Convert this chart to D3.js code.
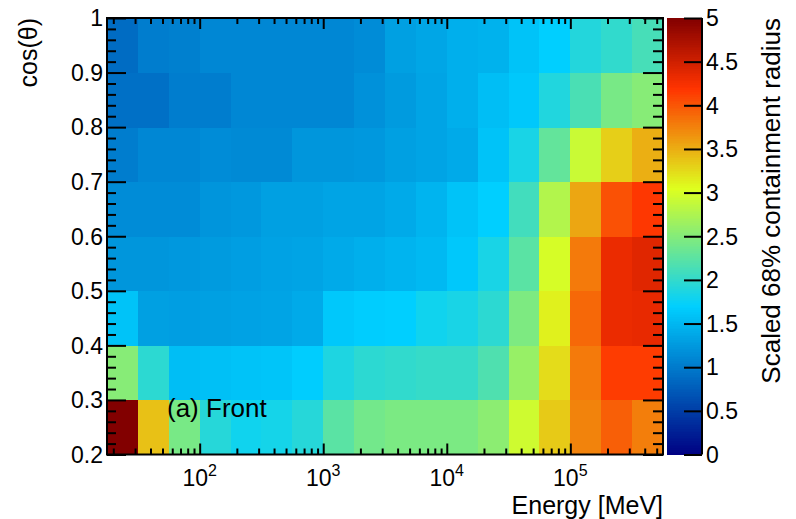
<!DOCTYPE html>
<html><head><meta charset="utf-8">
<script src="https://cdn.jsdelivr.net/npm/d3@7"></script>
<style>
body{margin:0;background:#fff}
svg{display:block}
text{font-family:"Liberation Sans",Arial,Helvetica,sans-serif;fill:#000}
</style>
</head><body>
<svg id="chart" width="796" height="519"></svg>
<script>
// ---- data ----
// energy bin edges, in log10(E / MeV)
const energyEdgesLog = [1.25,1.5,1.75,2,2.25,2.5,2.75,3,3.25,3.5,3.75,4,4.25,4.5,4.75,5,5.25,5.5,5.75];
// cos(theta) bin edges
const cosEdges = [0.2,0.3,0.4,0.5,0.6,0.7,0.8,0.9,1.0];
// scaled 68% containment radius, one array per cos(theta) row (low -> high energy)
const radiusCos020 = [5.0,3.4,2.43,1.93,1.8,1.83,1.93,2.25,2.4,2.45,2.45,2.45,2.55,2.95,3.35,3.75,3.95,3.78];
const radiusCos030 = [2.52,1.97,1.56,1.58,1.6,1.62,1.68,1.88,1.97,2.0,2.03,2.03,2.18,2.62,3.25,3.8,4.15,4.15];
const radiusCos040 = [1.6,1.31,1.3,1.31,1.33,1.35,1.4,1.64,1.68,1.7,1.8,1.85,1.97,2.46,3.13,3.9,4.33,4.35];
const radiusCos050 = [1.23,1.23,1.25,1.27,1.3,1.33,1.35,1.4,1.44,1.48,1.52,1.64,1.85,2.25,3.0,3.8,4.33,4.4];
const radiusCos060 = [1.15,1.15,1.15,1.22,1.25,1.31,1.31,1.35,1.35,1.4,1.48,1.6,1.7,2.1,2.78,3.55,4.03,4.18];
const radiusCos070 = [1.03,1.11,1.11,1.15,1.13,1.13,1.23,1.23,1.25,1.31,1.35,1.4,1.6,1.85,2.3,2.92,3.32,3.5];
const radiusCos080 = [0.92,0.92,1.03,1.03,1.11,1.11,1.11,1.11,1.19,1.27,1.35,1.44,1.56,1.64,1.9,2.15,2.43,2.52];
const radiusCos090 = [0.89,1.03,1.05,1.11,1.11,1.11,1.11,1.11,1.15,1.31,1.36,1.44,1.46,1.6,1.7,1.91,2.0,2.13];
const radiusRows = [radiusCos020,radiusCos030,radiusCos040,radiusCos050,radiusCos060,radiusCos070,radiusCos080,radiusCos090];
// ticks
const cosTicks = [0.2,0.3,0.4,0.5,0.6,0.7,0.8,0.9,1];
const cosTickLabels = ["0.2","0.3","0.4","0.5","0.6","0.7","0.8","0.9","1"];
const energyTickExps = [2,3,4,5];
const zTicks = [0,0.5,1,1.5,2,2.5,3,3.5,4,4.5,5];
const zTickLabels = ["0","0.5","1","1.5","2","2.5","3","3.5","4","4.5","5"];
// palette stops (fraction of z range) and colours
const paletteStops = [0.00,0.34,0.61,0.84,1.00];
const paletteColors = ["rgb(0,0,130)","rgb(0,207,255)","rgb(222,255,31)","rgb(255,51,0)","rgb(130,0,0)"];
const zRange = [0,5];

// ---- layout ----
const svg = d3.select("#chart");
const L = 107, R = 663, T = 18, B = 454.5;
const x = d3.scaleLog().domain([Math.pow(10,1.25), Math.pow(10,5.75)]).range([L,R]);
const y = d3.scaleLinear().domain([0.2,1]).range([B,T]);
const z = d3.scaleLinear()
  .domain(paletteStops.map(s => zRange[0] + s*(zRange[1]-zRange[0])))
  .range(paletteColors).interpolate(d3.interpolateRgb).clamp(true);

// ---- cells ----
const cells = [];
radiusRows.forEach((row,j) => row.forEach((v,i) => cells.push({
  e0: Math.pow(10,energyEdgesLog[i]), e1: Math.pow(10,energyEdgesLog[i+1]),
  c0: cosEdges[j], c1: cosEdges[j+1], v})));
svg.append("g").selectAll("rect").data(cells).join("rect")
  .attr("x", d => x(d.e0)).attr("width", d => x(d.e1)-x(d.e0)+0.5)
  .attr("y", d => y(d.c1)).attr("height", d => y(d.c0)-y(d.c1)+0.5)
  .attr("fill", d => z(d.v)).attr("shape-rendering","crispEdges");

// ---- axes ----
const minorE = [];
for (let p=1; p<=5; p++) for (let m=2; m<=9; m++) { const v = m*Math.pow(10,p); if (v>=x.domain()[0] && v<=x.domain()[1]) minorE.push(v); }
const majorE = energyTickExps.map(p => Math.pow(10,p));
const minorCos = d3.range(0.2,1.0001,0.02).map(v => +v.toFixed(2)).filter(v => !cosTicks.some(t => Math.abs(t-v)<1e-6));

function styleAxis(g){ g.select(".domain").remove(); g.selectAll("line").attr("stroke","#000").attr("stroke-width",2); g.selectAll("text").remove(); }
svg.append("g").attr("transform",`translate(0,${B})`).call(d3.axisBottom(x).tickValues(majorE).tickSize(-11).tickFormat("")).call(styleAxis);
svg.append("g").attr("transform",`translate(0,${B})`).call(d3.axisBottom(x).tickValues(minorE).tickSize(-6).tickFormat("")).call(styleAxis);
svg.append("g").attr("transform",`translate(0,${T})`).call(d3.axisTop(x).tickValues(majorE).tickSize(-11).tickFormat("")).call(styleAxis);
svg.append("g").attr("transform",`translate(0,${T})`).call(d3.axisTop(x).tickValues(minorE).tickSize(-6).tickFormat("")).call(styleAxis);
svg.append("g").attr("transform",`translate(${L},0)`).call(d3.axisLeft(y).tickValues(cosTicks).tickSize(-19).tickFormat("")).call(styleAxis);
svg.append("g").attr("transform",`translate(${L},0)`).call(d3.axisLeft(y).tickValues(minorCos).tickSize(-9).tickFormat("")).call(styleAxis);
svg.append("g").attr("transform",`translate(${R},0)`).call(d3.axisRight(y).tickValues(cosTicks).tickSize(-20).tickFormat("")).call(styleAxis);
svg.append("g").attr("transform",`translate(${R},0)`).call(d3.axisRight(y).tickValues(minorCos).tickSize(-10).tickFormat("")).call(styleAxis);

// frame
svg.append("rect").attr("x",L).attr("y",T).attr("width",R-L).attr("height",B-T)
  .attr("fill","none").attr("stroke","#000").attr("stroke-width",2);

// y tick labels
svg.append("g").selectAll("text").data(cosTicks).join("text")
  .attr("x",103).attr("y",d => y(d)).attr("dy","0.36em").attr("text-anchor","end")
  .attr("font-size",23).text((d,i) => cosTickLabels[i]);

// x tick labels 10^n
const xl = svg.append("g").selectAll("text").data(energyTickExps).join("text")
  .attr("x",d => x(Math.pow(10,d))).attr("y",486).attr("text-anchor","middle").attr("font-size",23);
xl.append("tspan").text("10");
xl.append("tspan").attr("dy",-10).attr("font-size",16).text(d => d);

// axis titles
svg.append("text").attr("x",R).attr("y",514).attr("text-anchor","end").attr("font-size",25).text("Energy [MeV]");
svg.append("text").attr("transform",`translate(37,${T}) rotate(-90)`).attr("text-anchor","end").attr("font-size",25).text("cos(\u03b8)");
svg.append("text").attr("x",167).attr("y",417).attr("font-size",26).text("(a) Front");

// ---- colour bar ----
const CB0 = 667, CB1 = 702;
const zy = d3.scaleLinear().domain(zRange).range([B,T]);
const nSlices = 250;
const slices = d3.range(nSlices).map(k => zRange[0] + (k+0.5)*(zRange[1]-zRange[0])/nSlices);
const dz = (zRange[1]-zRange[0])/nSlices;
svg.append("g").selectAll("rect").data(slices).join("rect")
  .attr("x",CB0).attr("width",CB1-CB0)
  .attr("y",d => zy(d+dz/2)).attr("height",d => zy(d-dz/2)-zy(d+dz/2)+0.6)
  .attr("fill",d => z(d)).attr("shape-rendering","crispEdges");
svg.append("g").attr("transform",`translate(${CB1},0)`)
  .call(d3.axisRight(zy).tickValues(zTicks).tickSize(-18).tickFormat(""))
  .call(g => { g.select(".domain").attr("stroke","#000").attr("stroke-width",2).attr("d",`M0,${T}V${B}`); g.selectAll("line").attr("stroke","#000").attr("stroke-width",2); g.selectAll("text").remove(); });
svg.append("g").selectAll("text").data(zTicks).join("text")
  .attr("x",706).attr("y",d => zy(d)).attr("dy","0.36em").attr("font-size",23)
  .text((d,i) => zTickLabels[i]);
svg.append("text").attr("transform",`translate(780,${T}) rotate(-90)`).attr("text-anchor","end")
  .attr("font-size",26).text("Scaled 68% containment radius");
</script>
</body></html>
